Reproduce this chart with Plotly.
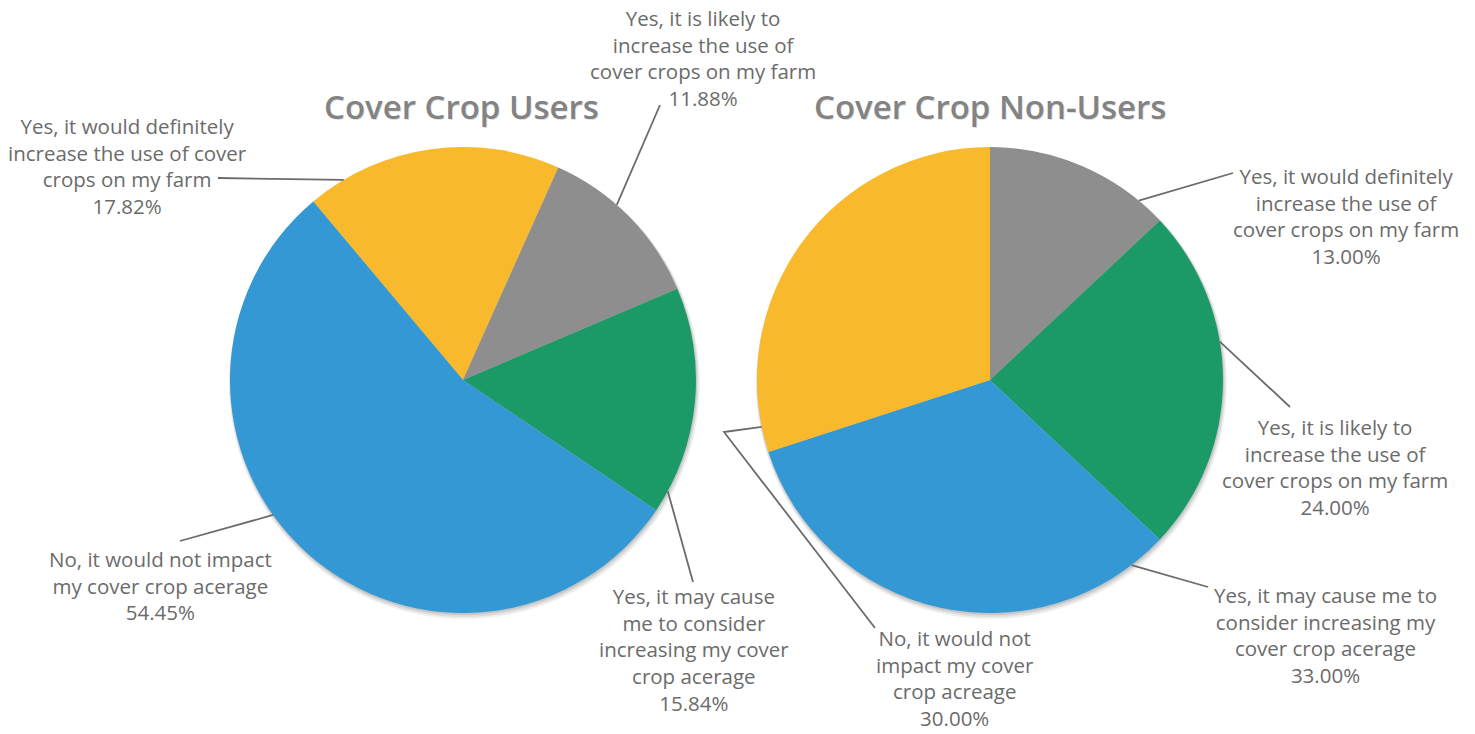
import math
import textwrap
import plotly.graph_objects as go

# ---------------- data ----------------
users_labels = [
    "Yes, it would definitely increase the use of cover crops on my farm",
    "Yes, it is likely to increase the use of cover crops on my farm",
    "Yes, it may cause me to consider increasing my cover crop acerage",
    "No, it would not impact my cover crop acerage",
]
users_values = [17.82, 11.88, 15.84, 54.45]

nonusers_labels = [
    "Yes, it would definitely increase the use of cover crops on my farm",
    "Yes, it is likely to increase the use of cover crops on my farm",
    "Yes, it may cause me to consider increasing my cover crop acerage",
    "No, it would not impact my cover crop acreage",
]
nonusers_values = [13.00, 24.00, 33.00, 30.00]

titles = ["Cover Crop Users", "Cover Crop Non-Users"]

# ---------------- styling / layout ----------------
W, H = 1475, 734
YELLOW, GRAY, GREEN, BLUE = "#F8B92C", "#8E8E8E", "#1B9A68", "#3398D3"
TEXT = "#6B6B6B"
FONT = "Open Sans"

users_colors = [YELLOW, GRAY, GREEN, BLUE]
nonusers_colors = [GRAY, GREEN, BLUE, YELLOW]

R = 233
users_center = (463, 380)
nonusers_center = (990, 380)
users_rotation = -40
nonusers_rotation = 0

users_wrap = [25, 22, 19, 23]
nonusers_wrap = [24, 22, 23, 16]
users_text_pos = [(127, 166), (703, 58), (694, 649), (160, 585)]
nonusers_text_pos = [(1346, 216), (1335, 467), (1325, 635), (955, 678)]
users_leader_angle = [329.2, 41.3, 118.5, 234.6]
nonusers_leader_angle = [39.7, 80.5, 142.6, 258.4]
users_leader_pts = [[(218, 178)], [(660, 105)], [(693, 582)], [(180, 541)]]
nonusers_leader_pts = [[(1233, 173)], [(1290, 407)], [(1208, 587)], [(724, 432), (875, 628)]]
title_pos = [(461, 106), (990, 106)]


def px(x):
    return x / W


def py(y):
    return 1 - y / H


def domain(center):
    cx, cy = center
    return dict(x=[px(cx - R), px(cx + R)], y=[py(cy + R), py(cy - R)])


fig = go.Figure()
shapes = []
annotations = []

for labels, values, colors, center, rot, wraps, tpos, angs, lpts, title, tp in [
    (users_labels, users_values, users_colors, users_center, users_rotation,
     users_wrap, users_text_pos, users_leader_angle, users_leader_pts, titles[0], title_pos[0]),
    (nonusers_labels, nonusers_values, nonusers_colors, nonusers_center, nonusers_rotation,
     nonusers_wrap, nonusers_text_pos, nonusers_leader_angle, nonusers_leader_pts, titles[1], title_pos[1]),
]:
    fig.add_trace(go.Pie(
        labels=labels, values=values, sort=False, direction="clockwise",
        rotation=rot, domain=domain(center), textinfo="none",
        marker=dict(colors=colors, line=dict(width=0)),
        showlegend=False, hovertemplate="%{label}<br>%{value:.2f}%<extra></extra>",
    ))
    cx, cy = center
    # soft shadow under the pie
    for off, grow, op in [(3.5, 2.5, 0.06), (2.5, 1.5, 0.08), (1.5, 0.5, 0.10)]:
        shapes.append(dict(
            type="circle", xref="paper", yref="paper", layer="below",
            x0=px(cx - R - grow + off * 0.4), x1=px(cx + R + grow + off * 0.4),
            y0=py(cy + R + grow + off), y1=py(cy - R - grow + off),
            fillcolor="black", opacity=op, line=dict(width=0),
        ))
    # labels and leader lines
    for lab, v, w, (tx, ty), a, pts in zip(labels, values, wraps, tpos, angs, lpts):
        text = "<br>".join(textwrap.wrap(lab, w)) + f"<br>{v:.2f}%"
        annotations.append(dict(
            x=px(tx), y=py(ty), xref="paper", yref="paper", text=text,
            showarrow=False, xanchor="center", yanchor="middle", align="center",
            font=dict(family=FONT, size=20.5, color=TEXT),
        ))
        ex = cx + R * math.sin(math.radians(a))
        ey = cy - R * math.cos(math.radians(a))
        path_pts = [(ex, ey)] + pts
        path = "M " + " L ".join(f"{px(x):.5f},{py(y):.5f}" for x, y in path_pts)
        shapes.append(dict(type="path", xref="paper", yref="paper", path=path,
                           line=dict(color=TEXT, width=1.8), layer="above"))
    # title with a faint shadow
    annotations.append(dict(
        x=px(tp[0] + 1.5), y=py(tp[1] + 1.5), xref="paper", yref="paper", text=title,
        showarrow=False, xanchor="center", yanchor="middle",
        font=dict(family=FONT, size=33, color="rgba(0,0,0,0.13)", weight=600),
    ))
    annotations.append(dict(
        x=px(tp[0]), y=py(tp[1]), xref="paper", yref="paper", text=title,
        showarrow=False, xanchor="center", yanchor="middle",
        font=dict(family=FONT, size=33, color="#838383", weight=600),
    ))

fig.update_layout(
    width=W, height=H,
    margin=dict(l=0, r=0, t=0, b=0),
    paper_bgcolor="white", plot_bgcolor="white",
    shapes=shapes, annotations=annotations,
    font=dict(family=FONT, color=TEXT),
)

fig.write_html("out.html", config={"displayModeBar": False},
               post_script="document.body.style.margin='0';")
